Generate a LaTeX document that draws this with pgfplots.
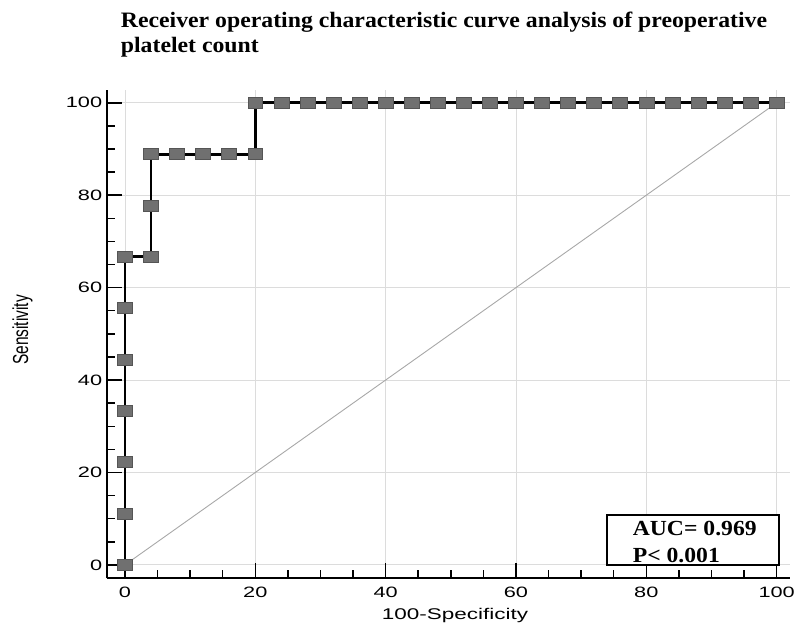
\documentclass[border=0pt]{standalone}
\usepackage{graphicx}
\usepackage{pgfplots}
\pgfplotsset{compat=1.18}
\usepackage{fontspec}
\setmainfont{Liberation Serif}
\newfontfamily\sansw[FakeStretch=1.45]{Liberation Sans}
\newfontfamily\sansn{Liberation Sans}
\newfontfamily\titlefont[FakeStretch=1.08]{Liberation Serif}
\newfontfamily\aucfont[FakeStretch=1.1]{Liberation Serif}
\definecolor{markfill}{HTML}{707070}
\definecolor{markdraw}{HTML}{555555}
\definecolor{gridc}{HTML}{DCDCDC}
\definecolor{diagc}{HTML}{A8A8A8}
\begin{document}
\begin{tikzpicture}
\useasboundingbox (-106.7pt,-47.7pt) rectangle (690.3pt,578.3pt);
\begin{axis}[
  scale only axis,
  width=683pt, height=488pt,
  xmin=-2.8, xmax=102, ymin=-2.9, ymax=102.7,
  axis x line*=bottom, axis y line*=left,
  axis line style={line width=2pt, black},
  xtick={0,20,...,100}, ytick={0,20,...,100},
  minor tick num=3,
  tick align=inside,
  major tick length=15pt, minor tick length=8pt,
  tick style={line width=1.5pt, black},
  grid=major,
  major grid style={line width=0.8pt, gridc},
  /pgf/number format/assume math mode=true,
  ticklabel style={font=\sansw\fontsize{15}{17}\selectfont},
  xticklabel style={yshift=-5pt},
  yticklabel style={xshift=-1pt},
  xlabel={100-Specificity},
  ylabel={\scalebox{1}[1.4]{Sensitivity}},
  xlabel style={font=\sansw\fontsize{15.5}{17}\selectfont, at={(axis description cs:0.51,-0.084)}, anchor=base},
  ylabel style={font=\sansn\fontsize{15.5}{17}\selectfont, at={(axis description cs:-0.115,0.509)}, anchor=base, rotate=0},
  clip=false,
]
\addplot[diagc, line width=0.9pt] coordinates {(0,0) (100,100)};
\addplot[black, line width=2.8pt, mark=square*, mark size=5.5pt,
  mark options={xscale=1.36, fill=markfill, draw=markdraw, line width=0.6pt}]
coordinates {
(0,0) (0,11.11) (0,22.22) (0,33.33) (0,44.44) (0,55.56) (0,66.67)
(4,66.67) (4,77.78) (4,88.89) (8,88.89) (12,88.89) (16,88.89) (20,88.89)
(20,100) (24,100) (28,100) (32,100) (36,100) (40,100) (44,100) (48,100)
(52,100) (56,100) (60,100) (64,100) (68,100) (72,100) (76,100) (80,100)
(84,100) (88,100) (92,100) (96,100) (100,100)
};
\draw[line width=2pt, black, fill=white] (axis cs:73.9,0) rectangle (axis cs:100.3,10.8);
\node[anchor=base west, inner sep=0pt, font=\aucfont\bfseries\fontsize{21.5}{23}\selectfont] at (axis cs:77.9,6.4) {AUC= 0.969};
\node[anchor=base west, inner sep=0pt, font=\aucfont\bfseries\fontsize{21.5}{23}\selectfont] at (axis cs:77.9,0.6) {P< 0.001};
\end{axis}
\node[anchor=base west, inner sep=0pt, font=\titlefont\bfseries\fontsize{22}{25}\selectfont] at (14pt,551pt) {Receiver operating characteristic curve analysis of preoperative};
\node[anchor=base west, inner sep=0pt, font=\titlefont\bfseries\fontsize{22}{25}\selectfont] at (14pt,526pt) {platelet count};
\end{tikzpicture}
\end{document}
